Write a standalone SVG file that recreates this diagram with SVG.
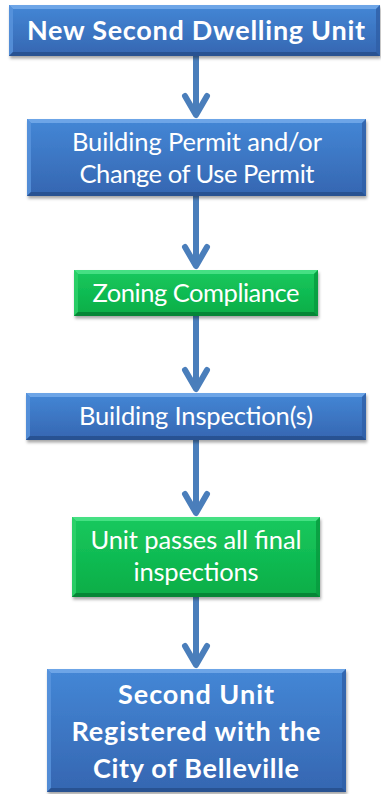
<svg xmlns="http://www.w3.org/2000/svg" width="381" height="794" viewBox="0 0 381 794">
<defs>
<linearGradient id="gBlue" x1="0" y1="0" x2="0" y2="1">
<stop offset="0" stop-color="#4487d6"/>
<stop offset="1" stop-color="#3566b1"/>
</linearGradient>
<linearGradient id="gGreen" x1="0" y1="0" x2="0" y2="1">
<stop offset="0" stop-color="#19c95e"/>
<stop offset="1" stop-color="#07ad47"/>
</linearGradient>
<filter id="sh" x="-10%" y="-10%" width="125%" height="140%">
<feDropShadow dx="1" dy="2.5" stdDeviation="1.8" flood-color="#000" flood-opacity="0.35"/>
</filter>
<marker id="chev" markerUnits="userSpaceOnUse" viewBox="-25 -16 30 32" refX="0" refY="0" markerWidth="30" markerHeight="32" orient="auto" overflow="visible">
<path d="M-19,-11 L0,0 L-19,11" fill="none" stroke="#4a7ebb" stroke-width="6" stroke-linecap="round" stroke-linejoin="round"/>
</marker>
</defs>
<style>
.blue{fill:url(#gBlue);}
.green{fill:url(#gGreen);}
.bT{fill:#74aaea;opacity:.85}
.bL{fill:#5a95dd;opacity:.8}
.bR{fill:#2f5fa6;opacity:.8}
.bB{fill:#264f8c;opacity:.85}
.gT{fill:#4ee48a;opacity:.85}
.gL{fill:#2fd26c;opacity:.8}
.gR{fill:#089a3e;opacity:.8}
.gB{fill:#057f33;opacity:.85}
.box{filter:url(#sh)}
.t{fill:#fff;font-family:Lato,"Open Sans","Liberation Sans",sans-serif;text-anchor:middle;font-size:25.5px}
.tb{font-weight:bold;font-size:27px}
.conn{stroke:#4a7ebb;stroke-width:6;fill:none;marker-end:url(#chev)}
</style>

<g id="connectors">
<line class="conn" x1="196" y1="56" x2="196" y2="115"/>
<line class="conn" x1="196" y1="196" x2="196" y2="266"/>
<line class="conn" x1="196" y1="316" x2="196" y2="389"/>
<line class="conn" x1="196" y1="440" x2="196" y2="513"/>
<line class="conn" x1="196" y1="597" x2="196" y2="665"/>
</g>

<g id="n1">
<g class="box"><rect class="blue" x="9" y="5" width="371" height="51"/></g>
<polygon class="bT" points="9,5 380,5 376,9 13,9"/>
<polygon class="bL" points="9,5 13,9 13,52 9,56"/>
<polygon class="bR" points="380,5 376,9 376,52 380,56"/>
<polygon class="bB" points="9,56 13,52 376,52 380,56"/>
<text class="t tb" x="196" y="40" textLength="338" lengthAdjust="spacing">New Second Dwelling Unit</text>
</g>

<g id="n2">
<g class="box"><rect class="blue" x="27" y="119" width="339" height="77"/></g>
<polygon class="bT" points="27,119 366,119 362,123 31,123"/>
<polygon class="bL" points="27,119 31,123 31,192 27,196"/>
<polygon class="bR" points="366,119 362,123 362,192 366,196"/>
<polygon class="bB" points="27,196 31,192 362,192 366,196"/>
<text class="t" x="197" y="151" textLength="250" lengthAdjust="spacing">Building Permit and/or</text>
<text class="t" x="197" y="183" textLength="235" lengthAdjust="spacing">Change of Use Permit</text>
</g>

<g id="n3">
<g class="box"><rect class="green" x="74" y="270" width="244" height="46"/></g>
<polygon class="gT" points="74,270 318,270 314,274 78,274"/>
<polygon class="gL" points="74,270 78,274 78,312 74,316"/>
<polygon class="gR" points="318,270 314,274 314,312 318,316"/>
<polygon class="gB" points="74,316 78,312 314,312 318,316"/>
<text class="t" x="196" y="302" textLength="207" lengthAdjust="spacing">Zoning Compliance</text>
</g>

<g id="n4">
<g class="box"><rect class="blue" x="26" y="393" width="340" height="47"/></g>
<polygon class="bT" points="26,393 366,393 362,397 30,397"/>
<polygon class="bL" points="26,393 30,397 30,436 26,440"/>
<polygon class="bR" points="366,393 362,397 362,436 366,440"/>
<polygon class="bB" points="26,440 30,436 362,436 366,440"/>
<text class="t" x="196" y="425" textLength="234" lengthAdjust="spacing">Building Inspection(s)</text>
</g>

<g id="n5">
<g class="box"><rect class="green" x="72" y="517" width="248" height="80"/></g>
<polygon class="gT" points="72,517 320,517 316,521 76,521"/>
<polygon class="gL" points="72,517 76,521 76,593 72,597"/>
<polygon class="gR" points="320,517 316,521 316,593 320,597"/>
<polygon class="gB" points="72,597 76,593 316,593 320,597"/>
<text class="t" x="196" y="549" textLength="211" lengthAdjust="spacing">Unit passes all final</text>
<text class="t" x="196" y="581" textLength="125" lengthAdjust="spacing">inspections</text>
</g>

<g id="n6">
<g class="box"><rect class="blue" x="47" y="669" width="299" height="123"/></g>
<polygon class="bT" points="47,669 346,669 342,673 51,673"/>
<polygon class="bL" points="47,669 51,673 51,788 47,792"/>
<polygon class="bR" points="346,669 342,673 342,788 346,792"/>
<polygon class="bB" points="47,792 51,788 342,788 346,792"/>
<text class="t tb" x="196" y="704" textLength="156" lengthAdjust="spacing">Second Unit</text>
<text class="t tb" x="196" y="741" textLength="249" lengthAdjust="spacing">Registered with the</text>
<text class="t tb" x="196" y="778" textLength="206" lengthAdjust="spacing">City of Belleville</text>
</g>
</svg>
